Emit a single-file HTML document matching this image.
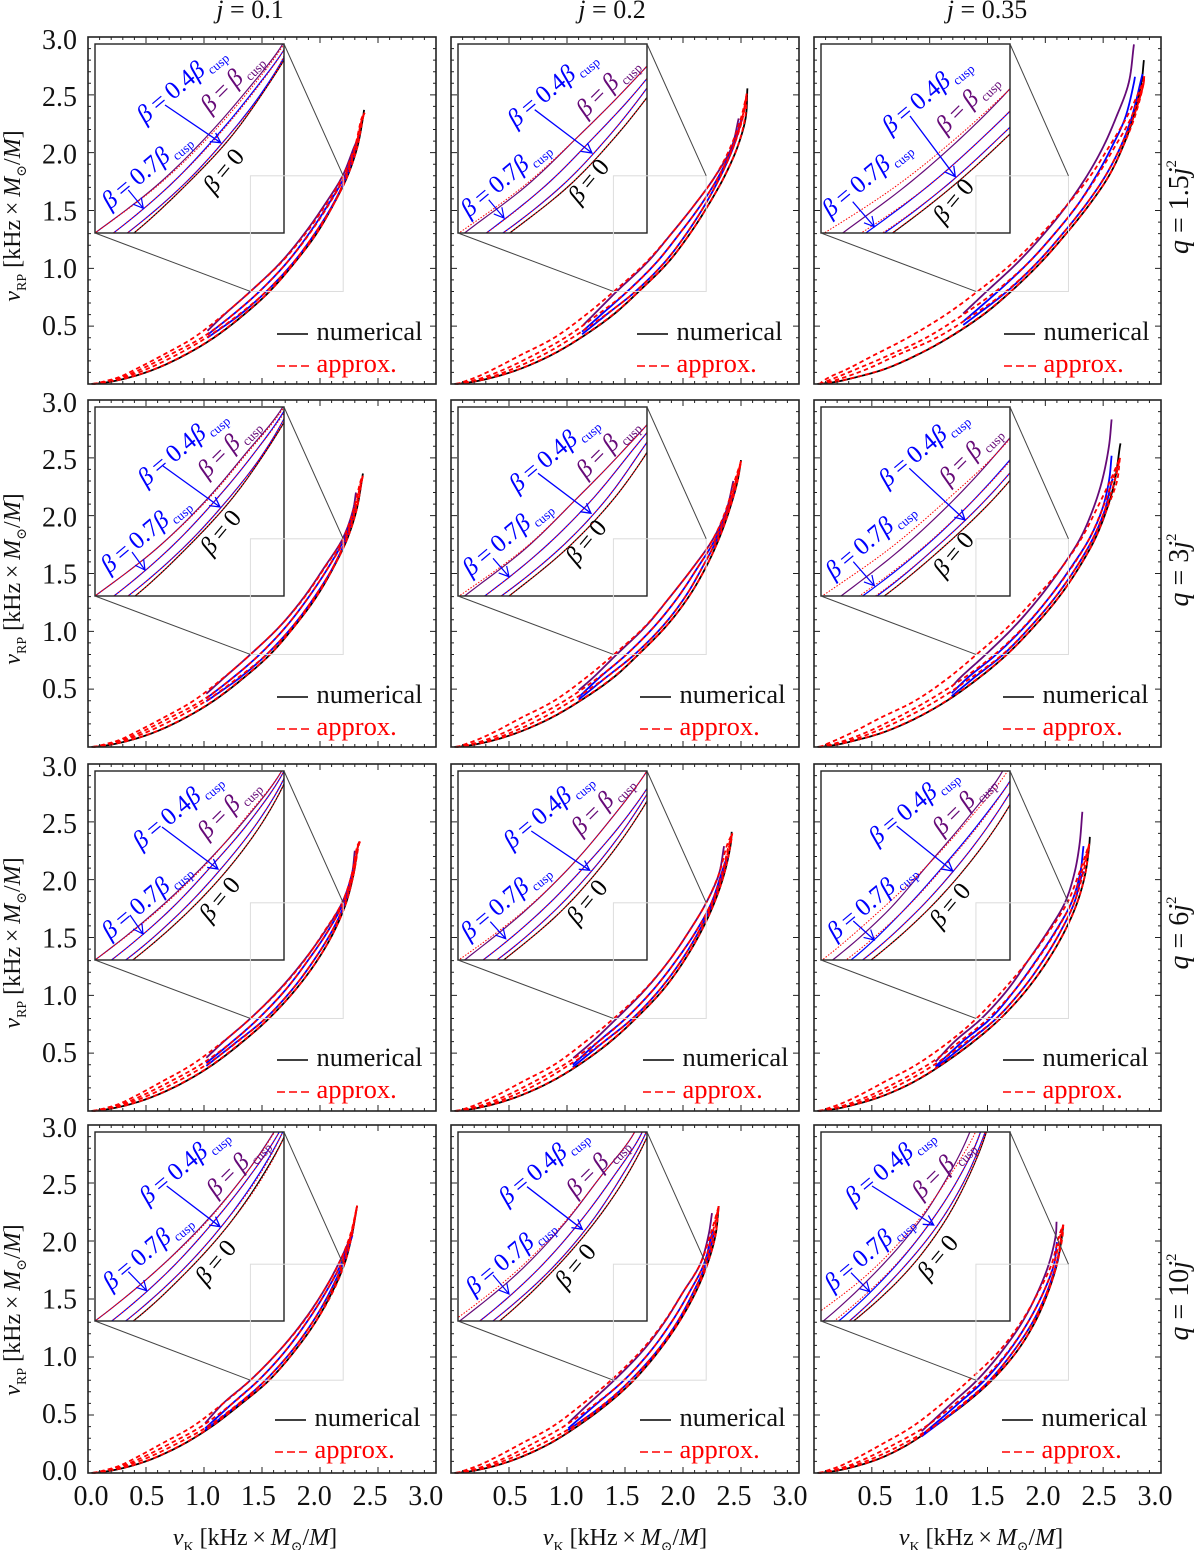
<!DOCTYPE html>
<html lang="en">
<head>
<meta charset="utf-8">
<title>Epicyclic frequency relations</title>
<style>
html,body{margin:0;padding:0;background:#fff;}
svg{display:block;}
text{font-family:"Liberation Serif","DejaVu Serif",serif;fill:#111;}
</style>
</head>
<body>
<svg id="figure" xmlns="http://www.w3.org/2000/svg" width="1200" height="1550" viewBox="0 0 1200 1550"></svg>
<script>
// ---- shared vRP levels at which the vK values below were read ----
const vRPLevelsLow = [0.001,0.005,0.02,0.06,0.13,0.25,0.4];
const vRPLevelsUpper = [0.6,0.8,1.05,1.3,1.55,1.8,2.05,2.3,2.6];
const majorTickLabels = ['0.0','0.5','1.0','1.5','2.0','2.5','3.0'];
const columnTitles = ['0.1','0.2','0.35'];
const rowTitles = ['1.5','3','6','10'];

// ---- panel r1c1 (j=0.1, q=1.5j^2) ; series order: cusp, 0.7, 0.4, 0 ----
const blackLow_r1c1 = [0.03,0.09,0.196,0.37,0.58,0.835,1.085];
const numericVK_r1c1 = [[1.175,1.40,1.66,1.865,2.04,2.195,2.295],[1.25,1.478,1.715,1.905,2.07,2.215],[1.31,1.537,1.77,1.955,2.11,2.23],[1.345,1.565,1.782,1.97,2.115,2.238,2.322,2.37]];
const numericStart_r1c1 = [[1.03,0.46],[1.03,0.425],[1.03,0.40]];
const numericEnd_r1c1 = [[2.34,2.15],[2.305,2.05],[2.32,2.08],[2.38,2.37]];
const approxVK_r1c1 = [[0.04,0.07,0.13,0.27,0.415,0.645,0.91,1.17,1.40,1.665,1.875,2.05,2.20,2.30,2.36],[0.045,0.08,0.155,0.295,0.46,0.70,0.98,1.25,1.478,1.715,1.91,2.075,2.215,2.305,2.365],[0.05,0.085,0.17,0.32,0.51,0.76,1.02,1.30,1.537,1.77,1.955,2.115,2.225,2.31,2.365],[0.05,0.09,0.19,0.365,0.575,0.83,1.08,1.34,1.565,1.782,1.97,2.115,2.238,2.322,2.37]];
const approxEnd_r1c1 = [2.385,2.345];

// ---- panel r1c2 ----
const blackLow_r1c2 = [0.03,0.09,0.196,0.375,0.595,0.865,1.12];
const numericVK_r1c2 = [[1.23,1.428,1.69,1.90,2.10,2.28,2.42],[1.295,1.52,1.77,1.97,2.155,2.31,2.43],[1.34,1.59,1.84,2.03,2.19,2.325,2.435],[1.40,1.619,1.87,2.06,2.22,2.36,2.47,2.54]];
const numericStart_r1c2 = [[1.14,0.51],[1.13,0.452],[1.13,0.43]];
const numericEnd_r1c2 = [[2.48,2.296],[2.50,2.28],[2.51,2.29],[2.555,2.556]];
const approxVK_r1c2 = [[0.04,0.065,0.11,0.22,0.37,0.60,0.89,1.165,1.404,1.68,1.90,2.10,2.28,2.41,2.50],[0.045,0.08,0.148,0.29,0.467,0.714,0.983,1.265,1.52,1.77,1.97,2.155,2.31,2.43,2.51],[0.05,0.085,0.173,0.34,0.53,0.79,1.045,1.335,1.59,1.84,2.03,2.19,2.325,2.435,2.515],[0.05,0.09,0.19,0.37,0.59,0.86,1.115,1.395,1.619,1.87,2.06,2.22,2.36,2.47,2.535]];
const approxEnd_r1c2 = [2.55,2.51];

// ---- panel r1c3 ----
const blackLow_r1c3 = [0.03,0.09,0.196,0.37,0.615,0.89,1.165];
const numericVK_r1c3 = [[1.28,1.492,1.76,1.99,2.19,2.36,2.50,2.61,2.72],[1.36,1.59,1.855,2.08,2.28,2.44,2.575,2.69,2.765],[1.41,1.668,1.93,2.15,2.35,2.52,2.65,2.745],[1.465,1.703,1.96,2.18,2.38,2.55,2.67,2.76,2.83]];
const numericStart_r1c3 = [[1.29,0.61],[1.29,0.54],[1.29,0.51]];
const numericEnd_r1c3 = [[2.766,2.936],[2.775,2.656],[2.84,2.68],[2.852,2.80]];
const approxVK_r1c3 = [[0.04,0.055,0.07,0.135,0.29,0.52,0.81,1.14,1.414,1.72,1.97,2.19,2.39,2.55,2.70,2.84],[0.045,0.07,0.10,0.20,0.37,0.65,0.97,1.29,1.57,1.855,2.08,2.28,2.45,2.60,2.74,2.845],[0.05,0.085,0.14,0.27,0.46,0.72,1.06,1.38,1.66,1.93,2.15,2.35,2.52,2.65,2.76,2.85],[0.05,0.09,0.19,0.365,0.61,0.885,1.16,1.46,1.70,1.96,2.18,2.38,2.55,2.67,2.77,2.85]];
const approxEnd_r1c3 = [2.855,2.66];

// ---- panel r2c1 ----
const blackLow_r2c1 = [0.03,0.09,0.196,0.37,0.58,0.835,1.085];
const numericVK_r2c1 = [[1.175,1.40,1.66,1.865,2.035,2.195,2.285],[1.25,1.48,1.715,1.905,2.07,2.21],[1.31,1.54,1.77,1.955,2.11,2.225],[1.345,1.57,1.785,1.97,2.115,2.235,2.315,2.36]];
const numericStart_r2c1 = [[1.02,0.46],[1.02,0.42],[1.02,0.395]];
const numericEnd_r2c1 = [[2.31,2.2],[2.30,2.05],[2.31,2.08],[2.37,2.365]];
const approxVK_r2c1 = [[0.04,0.07,0.13,0.27,0.415,0.645,0.91,1.17,1.40,1.66,1.87,2.04,2.20,2.29,2.35],[0.045,0.08,0.155,0.295,0.46,0.70,0.98,1.25,1.48,1.715,1.905,2.07,2.215,2.30,2.355],[0.05,0.085,0.17,0.32,0.51,0.76,1.02,1.295,1.54,1.77,1.955,2.11,2.225,2.305,2.36],[0.05,0.09,0.19,0.365,0.575,0.83,1.08,1.34,1.57,1.785,1.97,2.115,2.235,2.315,2.36]];
const approxEnd_r2c1 = [2.37,2.345];

// ---- panel r2c2 ----
const blackLow_r2c2 = [0.03,0.09,0.196,0.375,0.59,0.86,1.115];
const numericVK_r2c2 = [[1.225,1.428,1.685,1.89,2.085,2.26,2.375],[1.28,1.513,1.76,1.96,2.125,2.28,2.385],[1.335,1.583,1.83,2.02,2.165,2.295,2.39],[1.40,1.616,1.86,2.05,2.195,2.31,2.40,2.47]];
const numericStart_r2c2 = [[1.10,0.49],[1.10,0.43],[1.10,0.41]];
const numericEnd_r2c2 = [[2.434,2.30],[2.44,2.2],[2.45,2.25],[2.50,2.48]];
const approxVK_r2c2 = [[0.04,0.065,0.11,0.22,0.375,0.60,0.89,1.165,1.405,1.68,1.89,2.085,2.26,2.37,2.445],[0.045,0.08,0.15,0.295,0.47,0.71,0.98,1.27,1.513,1.76,1.96,2.125,2.28,2.385,2.455],[0.05,0.085,0.17,0.34,0.53,0.785,1.04,1.335,1.583,1.83,2.02,2.165,2.295,2.39,2.46],[0.05,0.09,0.19,0.37,0.585,0.855,1.11,1.395,1.616,1.86,2.05,2.195,2.31,2.40,2.47]];
const approxEnd_r2c2 = [2.50,2.47];

// ---- panel r2c3 ----
const blackLow_r2c3 = [0.03,0.09,0.196,0.37,0.61,0.885,1.15];
const numericVK_r2c3 = [[1.265,1.485,1.74,1.955,2.14,2.30,2.41,2.49,2.55],[1.33,1.576,1.83,2.04,2.22,2.38,2.49,2.55],[1.385,1.637,1.88,2.09,2.265,2.41,2.515,2.575],[1.43,1.668,1.91,2.12,2.29,2.43,2.53,2.60,2.645]];
const numericStart_r2c3 = [[1.19,0.52],[1.19,0.465],[1.19,0.44]];
const numericEnd_r2c3 = [[2.573,2.832],[2.573,2.518],[2.585,2.32],[2.65,2.625]];
const approxVK_r2c3 = [[0.04,0.06,0.095,0.19,0.34,0.57,0.875,1.165,1.405,1.69,1.925,2.14,2.31,2.44,2.56],[0.045,0.075,0.14,0.28,0.46,0.71,0.985,1.30,1.562,1.825,2.04,2.225,2.38,2.49,2.58],[0.05,0.085,0.165,0.325,0.52,0.785,1.06,1.36,1.63,1.88,2.09,2.265,2.41,2.515,2.60],[0.05,0.09,0.19,0.365,0.605,0.88,1.145,1.425,1.668,1.91,2.12,2.29,2.43,2.53,2.62]];
const approxEnd_r2c3 = [2.645,2.50];

// ---- panel r3c1 ----
const blackLow_r3c1 = [0.03,0.09,0.195,0.37,0.575,0.83,1.075];
const numericVK_r3c1 = [[1.17,1.40,1.65,1.86,2.04,2.19,2.275],[1.245,1.47,1.705,1.895,2.065,2.20],[1.285,1.53,1.76,1.945,2.10,2.215],[1.335,1.56,1.79,1.975,2.12,2.225,2.29,2.33]];
const numericStart_r3c1 = [[1.02,0.46],[1.02,0.415],[1.02,0.39]];
const numericEnd_r3c1 = [[2.30,2.25],[2.29,2.1],[2.295,2.12],[2.34,2.33]];
const approxVK_r3c1 = [[0.04,0.065,0.13,0.265,0.41,0.63,0.895,1.165,1.40,1.655,1.865,2.035,2.19,2.275,2.325],[0.045,0.08,0.155,0.295,0.46,0.70,0.97,1.245,1.47,1.705,1.895,2.065,2.20,2.28,2.33],[0.05,0.085,0.17,0.32,0.51,0.76,1.02,1.29,1.53,1.76,1.945,2.10,2.215,2.29,2.33],[0.05,0.09,0.19,0.365,0.57,0.825,1.07,1.33,1.56,1.79,1.975,2.12,2.225,2.29,2.335]];
const approxEnd_r3c1 = [2.345,2.33];

// ---- panel r3c2 ----
const blackLow_r3c2 = [0.03,0.09,0.196,0.375,0.59,0.855,1.105];
const numericVK_r3c2 = [[1.22,1.428,1.675,1.88,2.05,2.20,2.31],[1.27,1.506,1.745,1.94,2.11,2.245,2.33],[1.32,1.565,1.80,1.985,2.135,2.255,2.34],[1.375,1.593,1.83,2.01,2.155,2.27,2.355,2.41]];
const numericStart_r3c2 = [[1.054,0.458],[1.05,0.40],[1.05,0.38]];
const numericEnd_r3c2 = [[2.354,2.29],[2.37,2.17],[2.385,2.2],[2.42,2.414]];
const approxVK_r3c2 = [[0.04,0.065,0.12,0.23,0.385,0.61,0.89,1.16,1.403,1.67,1.88,2.05,2.20,2.31,2.38],[0.045,0.08,0.15,0.295,0.47,0.71,0.975,1.27,1.506,1.745,1.94,2.11,2.245,2.335,2.395],[0.05,0.085,0.17,0.335,0.525,0.775,1.02,1.32,1.565,1.80,1.985,2.135,2.255,2.345,2.40],[0.05,0.09,0.19,0.37,0.585,0.85,1.10,1.37,1.593,1.83,2.01,2.155,2.27,2.355,2.41]];
const approxEnd_r3c2 = [2.425,2.40];

// ---- panel r3c3 ----
const blackLow_r3c3 = [0.03,0.09,0.196,0.37,0.595,0.86,1.105];
const numericVK_r3c3 = [[1.215,1.449,1.675,1.85,2.02,2.169,2.25,2.295],[1.285,1.527,1.74,1.92,2.085,2.225,2.30],[1.335,1.576,1.80,1.98,2.13,2.25,2.32],[1.38,1.612,1.84,2.02,2.165,2.275,2.345,2.38]];
const numericStart_r3c3 = [[1.05,0.426],[1.05,0.385],[1.05,0.37]];
const numericEnd_r3c3 = [[2.32,2.587],[2.33,2.29],[2.335,2.07],[2.385,2.37]];
const approxVK_r3c3 = [[0.04,0.065,0.11,0.225,0.38,0.605,0.885,1.17,1.405,1.64,1.85,2.03,2.19,2.29],[0.045,0.08,0.15,0.295,0.475,0.72,0.985,1.26,1.506,1.74,1.925,2.09,2.225,2.31],[0.05,0.085,0.17,0.34,0.53,0.785,1.04,1.32,1.576,1.80,1.98,2.13,2.25,2.325],[0.05,0.09,0.19,0.365,0.59,0.855,1.10,1.375,1.612,1.84,2.02,2.165,2.275,2.345]];
const approxEnd_r3c3 = [2.38,2.31];

// ---- panel r4c1 ----
const blackLow_r4c1 = [0.03,0.09,0.195,0.37,0.575,0.825,1.065];
const numericVK_r4c1 = [[1.165,1.40,1.645,1.85,2.02,2.158],[1.245,1.471,1.70,1.885,2.045,2.18],[1.305,1.53,1.755,1.935,2.08,2.195],[1.325,1.562,1.78,1.96,2.10,2.21,2.275]];
const numericStart_r4c1 = [[1.01,0.43],[1.01,0.385],[1.01,0.37]];
const numericEnd_r4c1 = [[2.285,2.08],[2.28,2.07],[2.28,2.05],[2.32,2.304]];
const approxVK_r4c1 = [[0.04,0.065,0.13,0.265,0.41,0.63,0.90,1.165,1.40,1.645,1.855,2.02,2.16,2.26],[0.045,0.08,0.155,0.295,0.46,0.70,0.975,1.245,1.471,1.70,1.885,2.045,2.18,2.265],[0.05,0.085,0.17,0.32,0.51,0.76,1.03,1.30,1.53,1.755,1.935,2.085,2.195,2.27],[0.05,0.09,0.19,0.365,0.57,0.82,1.06,1.32,1.562,1.78,1.96,2.105,2.21,2.275]];
const approxEnd_r4c1 = [2.32,2.304];

// ---- panel r4c2 ----
const blackLow_r4c2 = [0.03,0.09,0.196,0.375,0.585,0.845,1.085];
const numericVK_r4c2 = [[1.19,1.407,1.65,1.84,1.995,2.148,2.22],[1.26,1.492,1.72,1.90,2.05,2.18,2.245],[1.33,1.548,1.775,1.95,2.085,2.197,2.262],[1.355,1.576,1.79,1.965,2.105,2.21,2.28]];
const numericStart_r4c2 = [[1.01,0.43],[1.01,0.385],[1.01,0.37]];
const numericEnd_r4c2 = [[2.25,2.24],[2.255,2.09],[2.27,2.09],[2.308,2.30]];
const approxVK_r4c2 = [[0.04,0.065,0.11,0.225,0.375,0.60,0.875,1.14,1.38,1.635,1.835,1.995,2.148,2.235],[0.045,0.08,0.15,0.29,0.465,0.70,0.97,1.25,1.492,1.72,1.90,2.05,2.18,2.25],[0.05,0.085,0.17,0.33,0.52,0.78,1.05,1.325,1.548,1.775,1.95,2.085,2.197,2.265],[0.05,0.09,0.19,0.37,0.58,0.84,1.08,1.35,1.576,1.79,1.965,2.105,2.21,2.28]];
const approxEnd_r4c2 = [2.308,2.30];

// ---- panel r4c3 ----
const blackLow_r4c3 = [0.03,0.09,0.196,0.37,0.58,0.82,1.04];
const numericVK_r4c3 = [[1.19,1.41,1.625,1.80,1.93,2.03,2.09],[1.25,1.475,1.685,1.85,1.98,2.075],[1.30,1.52,1.725,1.89,2.01,2.095],[1.31,1.538,1.755,1.91,2.02,2.10,2.145]];
const numericStart_r4c3 = [[0.93,0.36],[0.93,0.325],[0.93,0.315]];
const numericEnd_r4c3 = [[2.097,2.166],[2.10,1.99],[2.12,1.90],[2.155,2.14]];
const approxVK_r4c3 = [[0.04,0.065,0.11,0.225,0.37,0.59,0.85,1.11,1.34,1.60,1.79,1.935,2.054,2.12],[0.045,0.08,0.15,0.29,0.46,0.70,0.965,1.225,1.456,1.68,1.85,1.98,2.075,2.13],[0.05,0.085,0.17,0.33,0.52,0.77,1.03,1.29,1.52,1.725,1.89,2.01,2.095,2.14],[0.05,0.09,0.19,0.365,0.575,0.815,1.035,1.305,1.538,1.755,1.91,2.02,2.10,2.15]];
const approxEnd_r4c3 = [2.155,2.14];

const panelBlackLow = [[blackLow_r1c1,blackLow_r1c2,blackLow_r1c3],[blackLow_r2c1,blackLow_r2c2,blackLow_r2c3],[blackLow_r3c1,blackLow_r3c2,blackLow_r3c3],[blackLow_r4c1,blackLow_r4c2,blackLow_r4c3]];
const panelNumeric = [[numericVK_r1c1,numericVK_r1c2,numericVK_r1c3],[numericVK_r2c1,numericVK_r2c2,numericVK_r2c3],[numericVK_r3c1,numericVK_r3c2,numericVK_r3c3],[numericVK_r4c1,numericVK_r4c2,numericVK_r4c3]];
const panelStarts = [[numericStart_r1c1,numericStart_r1c2,numericStart_r1c3],[numericStart_r2c1,numericStart_r2c2,numericStart_r2c3],[numericStart_r3c1,numericStart_r3c2,numericStart_r3c3],[numericStart_r4c1,numericStart_r4c2,numericStart_r4c3]];
const panelEnds = [[numericEnd_r1c1,numericEnd_r1c2,numericEnd_r1c3],[numericEnd_r2c1,numericEnd_r2c2,numericEnd_r2c3],[numericEnd_r3c1,numericEnd_r3c2,numericEnd_r3c3],[numericEnd_r4c1,numericEnd_r4c2,numericEnd_r4c3]];
const panelApprox = [[approxVK_r1c1,approxVK_r1c2,approxVK_r1c3],[approxVK_r2c1,approxVK_r2c2,approxVK_r2c3],[approxVK_r3c1,approxVK_r3c2,approxVK_r3c3],[approxVK_r4c1,approxVK_r4c2,approxVK_r4c3]];
const panelApproxEnd = [[approxEnd_r1c1,approxEnd_r1c2,approxEnd_r1c3],[approxEnd_r2c1,approxEnd_r2c2,approxEnd_r2c3],[approxEnd_r3c1,approxEnd_r3c2,approxEnd_r3c3],[approxEnd_r4c1,approxEnd_r4c2,approxEnd_r4c3]];

// ---- annotation layout (pixels relative to the inset corner): labels 0.4, 0.7, cusp, 0; arrows tail/tip ----
const annotationLayout = [
 [{l4:[44,78],l7:[9,164],lp:[109,68],l0:[113,148.7],a4:[70,61,125.7,98.7],a7:[33.3,146,48.3,164.3]},
  {l4:[51.7,82],l7:[5,172],lp:[121.7,72.3],l0:[115,159],a4:[76.7,65.7,134,109],a7:[30.7,155.7,46,174]},
  {l4:[63.4,88.7],l7:[3.4,172],lp:[118.4,88.7],l0:[116.7,178.7],a4:[89,72,134.3,132.7],a7:[31.7,157.7,53.3,182.7]}],
 [{l4:[45,78],l7:[8,165],lp:[106,70],l0:[110,147],a4:[68,59,125,100],a7:[37,145,50,163]},
  {l4:[53.4,84],l7:[6.7,168],lp:[121.7,70],l0:[112.4,156.7],a4:[80,66.3,133,106.3],a7:[35,151.3,51,169.7]},
  {l4:[60,79],l7:[6.7,170.7],lp:[121.7,77.3],l0:[116.7,169],a4:[88.3,61.3,144,113],a7:[32.3,154.7,53.3,178.7]}],
 [{l4:[40,77],l7:[9,167],lp:[106,67],l0:[109,150],a4:[67,56,123,98],a7:[35,144,48,163]},
  {l4:[47.7,76.7],l7:[5,167.7],lp:[116.7,63.3],l0:[113.4,152.7],a4:[73.3,60,131.7,99.3],a7:[32.3,150.7,47.7,167.7]},
  {l4:[50,72.7],l7:[8.4,167.7],lp:[115,63.3],l0:[113.4,156],a4:[75.7,55,131.7,100],a7:[32.3,150,53.3,169]}],
 [{l4:[46.7,71.3],l7:[10,157],lp:[115,64],l0:[105,152],a4:[71.7,54,125,94.7],a7:[33.3,139.7,51.7,158.7]},
  {l4:[43,72],l7:[10,162],lp:[111.7,64],l0:[101.7,155.7],a4:[69,54.7,124.3,97.3],a7:[35,143,51,162]},
  {l4:[26.4,71.7],l7:[5.7,158],lp:[94.4,66],l0:[101,147],a4:[51,54,112.7,93],a7:[30,140.7,48.7,159.7]}]
];

// ---- page geometry ----
const colLeft = [88,451,814], colWidth = [348,348,347];
const rowTop = [37,400,764,1125], rowHeight = [347,347,347,348];
const legendLineY = [334,697,1060,1420];
const legendLineX = [[277,637,1004],[277,640,1003],[277,643,1003],[275,640,1002]];
const yTitleCenter = [216,579,943,1310];
const rowLabelCenter = [207,570,933,1297];
const columnTitleX = [250,612,987];
const xTitleX = [255,625,981];
const xLabelOrigin = [91,454,819], xLabelStep = [55.8,56,56];
const INSET_SIZE = 189, INSET_PAD = 7;
const INSET_X = [1.4,2.2], INSET_Y = [0.8,1.8];
const SERIES_COLORS = ['#660a78','#0000ff','#0000ff','#000000'];
const SERIES_NAMES = ['beta-cusp','beta-0-7-cusp','beta-0-4-cusp','beta-0'];

const NS = 'http://www.w3.org/2000/svg';
const root = document.getElementById('figure');
function make(tag, attrs, parent){
  const n = document.createElementNS(NS, tag);
  for(const k in attrs) n.setAttribute(k, attrs[k]);
  parent.appendChild(n);
  return n;
}
// parts: [string, style] with style '', 'i', 'sub', 'sup'
function rich(node, parts, subSize){
  let shift = 0;
  parts.forEach(function(p){
    const t = document.createElementNS(NS, 'tspan');
    t.textContent = p[0];
    const target = p[1]==='sub' ? subSize*0.42 : p[1]==='sup' ? -subSize*0.8 : 0;
    t.setAttribute('dy', target - shift);
    shift = target;
    if(p[1]==='i') t.setAttribute('font-style','italic');
    if(p[1]==='sub'||p[1]==='sup') t.setAttribute('font-size', subSize);
    node.appendChild(t);
  });
}
// centripetal Catmull-Rom resampling of the tabulated points
function smooth(p){
  const out = [p[0]];
  const get = function(i){
    if(i<0) return [2*p[0][0]-p[1][0], 2*p[0][1]-p[1][1]];
    if(i>=p.length){const n=p.length; return [2*p[n-1][0]-p[n-2][0], 2*p[n-1][1]-p[n-2][1]];}
    return p[i];
  };
  const lerp = function(a,b,ta,tb,t){
    const w = tb===ta ? 0 : (t-ta)/(tb-ta);
    return [a[0]+(b[0]-a[0])*w, a[1]+(b[1]-a[1])*w];
  };
  for(let i=0;i<p.length-1;i++){
    const P0=get(i-1),P1=get(i),P2=get(i+1),P3=get(i+2);
    const d=function(a,b){return Math.pow(Math.hypot(a[0]-b[0],a[1]-b[1]),0.5)||1e-4;};
    const t0=0,t1=t0+d(P0,P1),t2=t1+d(P1,P2),t3=t2+d(P2,P3);
    for(let s=1;s<=10;s++){
      const t=t1+(t2-t1)*s/10;
      const A1=lerp(P0,P1,t0,t1,t),A2=lerp(P1,P2,t1,t2,t),A3=lerp(P2,P3,t2,t3,t);
      const B1=lerp(A1,A2,t0,t2,t),B2=lerp(A2,A3,t1,t3,t);
      out.push(lerp(B1,B2,t1,t2,t));
    }
  }
  return out;
}
function pathFrom(points, sx, sy){
  return smooth(points).map(function(q,i){return (i?'L':'M')+sx(q[0]).toFixed(2)+' '+sy(q[1]).toFixed(2);}).join('');
}
function numericPoints(r,c,i){
  const end = panelEnds[r][c][i];
  const pts = [];
  if(i===3){
    panelBlackLow[r][c].forEach(function(x,k){pts.push([x,vRPLevelsLow[k]]);});
    panelNumeric[r][c][3].forEach(function(x,k){ if(vRPLevelsUpper[k]<end[1]-0.01) pts.push([x,vRPLevelsUpper[k]]); });
  } else {
    const start = panelStarts[r][c][i];
    pts.push(start);
    panelNumeric[r][c][i].forEach(function(x,k){ const y=vRPLevelsUpper[k]; if(y>start[1]+0.03 && y<end[1]-0.01) pts.push([x,y]); });
  }
  pts.push(end);
  return pts;
}
function approxPoints(r,c,i){
  const levels = vRPLevelsLow.concat(vRPLevelsUpper);
  const end = panelApproxEnd[r][c];
  const pts = [];
  panelApprox[r][c][i].forEach(function(x,k){ if(levels[k]<end[1]-0.005) pts.push([x,levels[k]]); });
  pts.push(end);
  return pts;
}
function drawCurves(group, r, c, sx, sy, inset){
  [3,0,1,2].forEach(function(i){
    const line = make('path',{d:pathFrom(numericPoints(r,c,i),sx,sy),fill:'none',stroke:SERIES_COLORS[i],'stroke-width':inset?1.2:1.8},group);
    
    
  });
  [0,1,2,3].forEach(function(i){
    const line = make('path',{d:pathFrom(approxPoints(r,c,i),sx,sy),fill:'none',stroke:'#ff0000','stroke-width':inset?1:1.8,'stroke-dasharray':inset?'1.5 1.6':'4.5 3.2'},group);
    
    
  });
}
function insetLabel(group, pos, angle, color, parts, name){
  const t = make('text',{transform:'translate('+(pos[0]+6)+' '+(pos[1]+2)+') rotate('+(-angle)+')','font-size':25,style:'fill:'+color},group);
  rich(t, parts, 13);
  
  
}
function insetArrow(group, a, width, name){
  const dx=a[2]-a[0], dy=a[3]-a[1], ang=Math.atan2(dy,dx), len=11;
  const b1=[a[2]-len*Math.cos(ang-0.5), a[3]-len*Math.sin(ang-0.5)];
  const b2=[a[2]-len*Math.cos(ang+0.5), a[3]-len*Math.sin(ang+0.5)];
  const p = make('path',{d:'M'+a[0]+' '+a[1]+'L'+a[2]+' '+a[3]+'M'+b1[0]+' '+b1[1]+'L'+a[2]+' '+a[3]+'L'+b2[0]+' '+b2[1],fill:'none',stroke:'#0000ff','stroke-width':width},group);
  
  
}

const defs = make('defs',{},root);
rowTop.forEach(function(top,r){
  colLeft.forEach(function(left,c){
    const W=colWidth[c], H=rowHeight[r], bottom=top+H, right=left+W;
    const xAxis=function(v){return left+v/3*W;};
    const yAxis=function(v){return bottom-v/3*H;};
    const ix0=left+INSET_PAD, iy0=top+INSET_PAD;
    const xInset=function(v){return ix0+(v-INSET_X[0])/(INSET_X[1]-INSET_X[0])*INSET_SIZE;};
    const yInset=function(v){return iy0+INSET_SIZE-(v-INSET_Y[0])/(INSET_Y[1]-INSET_Y[0])*INSET_SIZE;};

    const panel = make('g',{},root);
    
    

    const mainGroup = make('g',{},panel);
    
    
    drawCurves(mainGroup,r,c,xAxis,yAxis,false);

    // inset
    const clipId='clip-'+r+'-'+c;
    const clip = make('clipPath',{id:clipId},defs);
    make('rect',{x:ix0,y:iy0,width:INSET_SIZE,height:INSET_SIZE},clip);
    const insetBg = make('rect',{x:ix0,y:iy0,width:INSET_SIZE,height:INSET_SIZE,fill:'#fff'},panel);
    
    
    const insetGroup = make('g',{'clip-path':'url(#'+clipId+')'},panel);
    
    
    drawCurves(insetGroup,r,c,xInset,yInset,true);
    const insetFrame = make('rect',{x:ix0,y:iy0,width:INSET_SIZE,height:INSET_SIZE,fill:'none',stroke:'#222','stroke-width':1.4},panel);
    
    

    // zoom region and connectors
    const region = make('rect',{x:xAxis(INSET_X[0]),y:yAxis(INSET_Y[1]),width:xAxis(INSET_X[1])-xAxis(INSET_X[0]),height:yAxis(INSET_Y[0])-yAxis(INSET_Y[1]),fill:'none',stroke:'#dcdcdc','stroke-width':1},panel);
    
    
    const conn1 = make('line',{x1:ix0,y1:iy0+INSET_SIZE,x2:xAxis(INSET_X[0]),y2:yAxis(INSET_Y[0]),stroke:'#444','stroke-width':1},panel);
    
    
    const conn2 = make('line',{x1:ix0+INSET_SIZE,y1:iy0,x2:xAxis(INSET_X[1]),y2:yAxis(INSET_Y[1]),stroke:'#444','stroke-width':1},panel);
    
    

    // annotations
    const ann = annotationLayout[r][c];
    const annGroup = make('g',{transform:'translate('+ix0+' '+iy0+')'},panel);
    
    
    insetLabel(annGroup,ann.l4,40,'#0000ff',[['β','i'],['\u2009=\u20090.4',''],['β','i'],['\u2009cusp','sub']],'label-beta-0-4-cusp');
    insetLabel(annGroup,ann.l7,40,'#0000ff',[['β','i'],['\u2009=\u20090.7',''],['β','i'],['\u2009cusp','sub']],'label-beta-0-7-cusp');
    insetLabel(annGroup,ann.lp,45,'#660a78',[['β','i'],['\u2009=\u2009',''],['β','i'],['\u2009cusp','sub']],'label-beta-cusp');
    insetLabel(annGroup,ann.l0,50,'#000000',[['β','i'],['\u2009=\u20090','']],'label-beta-0');
    insetArrow(annGroup,ann.a4,1.3,'arrow-beta-0-4-cusp');
    insetArrow(annGroup,ann.a7,1.2,'arrow-beta-0-7-cusp');

    // ticks
    let d='';
    for(let i=0;i<=30;i++){
      const v=i/10, len=(i%5===0)?6:3;
      d+='M'+xAxis(v)+' '+bottom+'v'+(-len)+'M'+xAxis(v)+' '+top+'v'+len;
      d+='M'+left+' '+yAxis(v)+'h'+len+'M'+right+' '+yAxis(v)+'h'+(-len);
    }
    const ticks = make('path',{d:d,fill:'none',stroke:'#222','stroke-width':1},panel);
    
    
    const frame = make('rect',{x:left,y:top,width:W,height:H,fill:'none',stroke:'#222','stroke-width':1.6},panel);
    
    

    // legend
    const lx=legendLineX[r][c], ly=legendLineY[r];
    const l1 = make('line',{x1:lx,x2:lx+31,y1:ly,y2:ly,stroke:'#000','stroke-width':1.4},panel);
    
    
    const t1 = make('text',{x:lx+39.5,y:ly+6,'font-size':26.5},panel);
    t1.textContent='numerical';
    
    
    const l2 = make('line',{x1:lx,x2:lx+32,y1:ly+32,y2:ly+32,stroke:'#ff0000','stroke-width':1.4,'stroke-dasharray':'8 4'},panel);
    
    
    const t2 = make('text',{x:lx+39.5,y:ly+38,'font-size':26.5,style:'fill:#ff0000'},panel);
    t2.textContent='approx.';
    
    

    // y tick labels
    if(c===0){
      majorTickLabels.forEach(function(label,k){
        if(k===0 && r!==3) return;
        const yt = make('text',{x:77,y:top+12+(6-k)*57.2,'font-size':28,'text-anchor':'end'},panel);
        yt.textContent=label;
        
        
      });
      const yTitle = make('text',{transform:'translate(20 '+yTitleCenter[r]+') rotate(-90)','font-size':24,'text-anchor':'middle'},panel);
      rich(yTitle,[['ν','i'],['RP','sub'],[' [kHz\u2009×\u2009',''],['M','i'],['⊙','sub'],['/',''],['M','i'],[']','']],14);
      
      
    }
    // x tick labels
    if(r===3){
      majorTickLabels.forEach(function(label,k){
        if(k===0 && c!==0) return;
        const xt = make('text',{x:xLabelOrigin[c]+k*xLabelStep[c],y:1505,'font-size':28,'text-anchor':'middle'},panel);
        xt.textContent=label;
        
        
      });
      const xTitle = make('text',{x:xTitleX[c],y:1545,'font-size':24,'text-anchor':'middle'},panel);
      rich(xTitle,[['ν','i'],['K','sub'],[' [kHz\u2009×\u2009',''],['M','i'],['⊙','sub'],['/',''],['M','i'],[']','']],14);
      
      
    }
    // column title
    if(r===0){
      const ct = make('text',{x:columnTitleX[c],y:18,'font-size':26,'text-anchor':'middle'},panel);
      rich(ct,[['j','i'],[' = '+columnTitles[c],'']],14);
      
      
    }
    // row label
    if(c===2){
      const rt = make('text',{transform:'translate(1188 '+rowLabelCenter[r]+') rotate(-90)','font-size':28,'text-anchor':'middle'},panel);
      rich(rt,[['q','i'],[' = '+rowTitles[r],''],['j','i'],['2','sup']],15);
      
      
    }
  });
});
</script>
</body>
</html>
